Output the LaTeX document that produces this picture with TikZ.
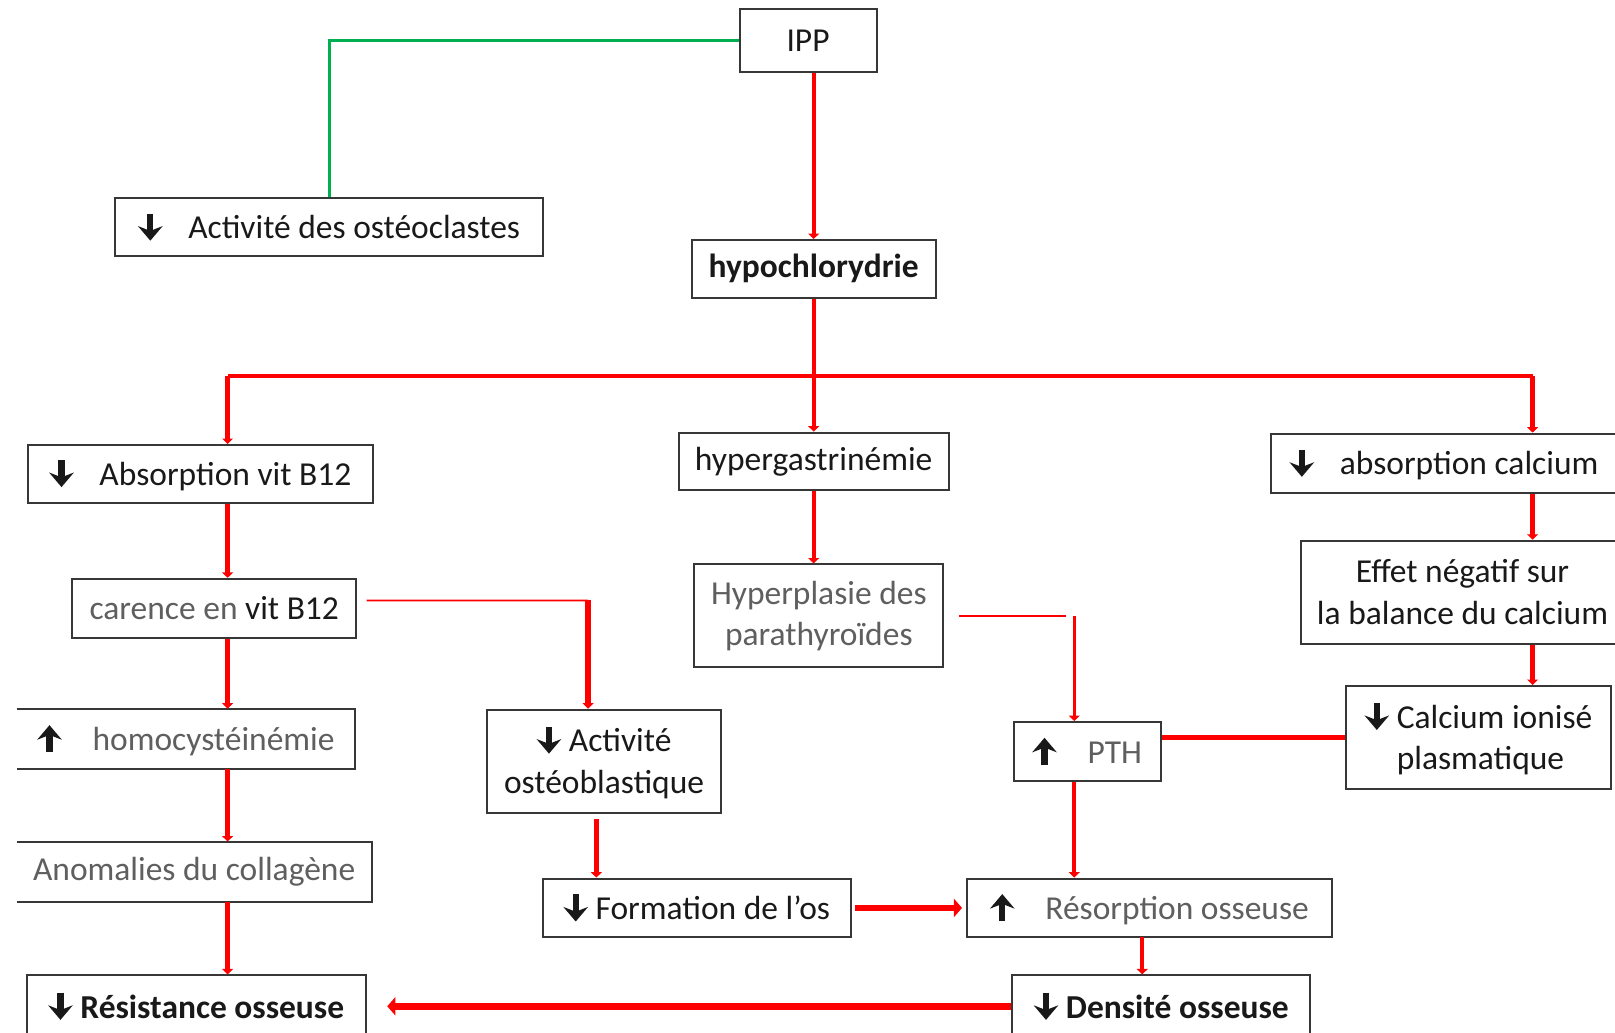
\documentclass[tikz,border=0pt]{standalone}
\usepackage{fontspec}
\setmainfont{Carlito}
\usetikzlibrary{positioning,arrows.meta}
\definecolor{ink}{RGB}{25,25,25}
\definecolor{frame}{RGB}{55,55,55}
\definecolor{soft}{RGB}{95,95,95}
\definecolor{lnRed}{RGB}{255,0,0}
\definecolor{lnGreen}{RGB}{0,176,80}
% heavy arrows in front of the labels
\newcommand{\arrdn}{\tikz[baseline=0pt]\draw[ink, line width=3.4pt, -{Stealth[length=8pt,width=13.5pt,inset=2.6pt]}] (0pt,14pt) -- (0pt,-1pt);}
\newcommand{\arrup}{\tikz[baseline=0pt]\draw[ink, line width=3.4pt, -{Stealth[length=8pt,width=13.5pt,inset=2.6pt]}] (0pt,-1pt) -- (0pt,14pt);}

\begin{document}
\begin{tikzpicture}[
  x=0.2mm, y=-0.2mm,
  font=\fontsize{18.5}{23}\selectfont,
  box/.style={draw=frame, line width=1.1pt, fill=white, text=ink, align=center, inner sep=0pt},
  openbox/.style={box, draw=none},
  link/.style={draw=lnRed, line width=2.4pt},
  fine/.style={draw=lnRed, line width=0.9pt},
  tip/.style={-{Triangle[length=3pt,width=6pt]}},
  bigtip/.style={-{Triangle[length=4.5pt,width=10pt]}},
]

% ---- canvas ----
\fill[white] (0,0) rectangle (1568,1002);
\useasboundingbox (0,0) rectangle (1568,1002);

% ---- top ----
\node[box, minimum width=26.6mm, minimum height=12.2mm] (IPP) at (784.5,39.5) {IPP};
\node[box, minimum width=83mm, minimum height=11.4mm] (OST) at (319.5,220.5) {\arrdn\hspace{5mm}Activité des ostéoclastes};
\node[box, minimum width=47.4mm, minimum height=11.2mm] (HYPO) at (790,261) {\bfseries hypochlorydrie};

% ---- second row ----
\node[box, minimum width=67mm, minimum height=11.2mm] (B12) at (194.5,460) {\arrdn\hspace{5mm}Absorption vit B12};
\node[box, minimum width=52.4mm, minimum height=11.2mm] (GAS) at (790,448) {hypergastrinémie};
\node[box, minimum width=67.2mm, minimum height=11.6mm] (CAABS) at (1402,450) {\arrdn\hspace{5mm}absorption calcium};

% ---- left column ----
\node[box, minimum width=55.2mm, minimum height=11.4mm] (CAR) at (208,590.5) {\textcolor{soft}{carence en} vit B12};
\node[openbox, minimum width=65.4mm, minimum height=11.4mm] (HCY) at (180.5,717.5) {\arrup\hspace{6mm}\textcolor{soft}{homocystéinémie}};
\node[openbox, minimum width=68.6mm, minimum height=11.4mm, text=soft] (ANO) at (188.5,846.5) {Anomalies du collagène};
\node[box, minimum width=65.8mm, minimum height=12mm] (RST) at (190.5,977) {\arrdn\hspace{1.5mm}\bfseries Résistance osseuse};
\draw[frame, line width=1.1pt] (HCY.north west) -- (HCY.north east) -- (HCY.south east) -- (HCY.south west);
\draw[frame, line width=1.1pt] (ANO.north west) -- (ANO.north east) -- (ANO.south east) -- (ANO.south west);

% ---- middle ----
\node[box, minimum width=45.4mm, minimum height=20mm] (ACT) at (586.5,739) {\arrdn\hspace{1.5mm}Activité\\ostéoblastique};
\node[box, minimum width=48.4mm, minimum height=20mm, text=soft] (HPL) at (795,598) {Hyperplasie des\\parathyroïdes};
\node[box, minimum width=28.6mm, minimum height=11.4mm] (PTH) at (1055.5,729.5) {\arrup\hspace{6mm}\textcolor{soft}{PTH}};
\node[box, minimum width=59.8mm, minimum height=11.4mm] (FORM) at (676.5,881.5) {\arrdn\hspace{1.5mm}Formation de l’os};
\node[box, minimum width=70.8mm, minimum height=11.4mm] (RES) at (1116,881.5) {\arrup\hspace{6mm}\textcolor{soft}{Résorption osseuse}};
\node[box, minimum width=57.8mm, minimum height=12mm] (DEN) at (1127.5,977) {\arrdn\hspace{1.5mm}\bfseries Densité osseuse};

% ---- right column ----
\node[box, minimum width=62.8mm, minimum height=20mm] (EFF) at (1420,575) {Effet négatif sur\\la balance du calcium};
\node[box, minimum width=51.4mm, minimum height=20mm, align=left] (CAION) at (1435.5,716) {\arrdn\hspace{1.5mm}Calcium ionisé\\\phantom{\arrdn\hspace{1.5mm}}plasmatique};

% ---- junctions ----
\coordinate (jL) at (221,365);
\coordinate (jR) at (1488,365);
\coordinate (kA) at (571,583);
\coordinate (kF) at (579,795);
\coordinate (kP) at (1043,598);
\coordinate (kD) at (1109,910);

% ---- links ----
\draw[lnGreen, line width=1.7pt] (IPP.west) -| (OST.north);
\draw[link, tip] (HYPO.north |- IPP.south) -- (HYPO.north);
\draw[link, tip] (HYPO.south) -- (GAS.north);
\draw[link] (jL) -- (jR);
\draw[link, tip] (jL) -- (jL |- B12.north);
\draw[link, tip] (jR) -- (jR |- CAABS.north);

\draw[link, tip] (jL |- B12.south) -- (jL |- CAR.north);
\draw[link, tip] (jL |- CAR.south) -- (jL |- HCY.north);
\draw[link, tip] (jL |- HCY.south) -- (jL |- ANO.north);
\draw[link, tip] (jL |- ANO.south) -- (jL |- RST.north);

\draw[fine] ([xshift=1.8mm,yshift=1.5mm]CAR.east) -- (kA);
\draw[link, line width=3pt, tip] (kA) -- (kA |- ACT.north);
\draw[link, tip] (kF) -- (kF |- FORM.north);
\draw[link, bigtip, line width=3.6pt, shorten <=0.6mm, shorten >=0.8mm] (FORM.east) -- (RES.west);

\draw[link, tip] (GAS.south) -- (GAS.south |- HPL.north);
\draw[fine] ([xshift=2.8mm]HPL.east) -- ([xshift=-1.6mm]kP);
\draw[link, line width=1.6pt, tip] (kP) -- (kP |- PTH.north);
\draw[link, tip] (kP |- PTH.south) -- (kP |- RES.north);
\draw[link, tip] (kD) -- (kD |- DEN.north);
\draw[link, bigtip, line width=3.8pt, shorten >=4mm] (DEN.west) -- (DEN.west -| RST.east);

\draw[link, tip] (jR |- CAABS.south) -- (jR |- EFF.north);
\draw[link, tip] (jR |- EFF.south) -- (jR |- CAION.north);
\draw[link] (CAION.west) -- (CAION.west -| PTH.east);

\end{tikzpicture}
\end{document}
